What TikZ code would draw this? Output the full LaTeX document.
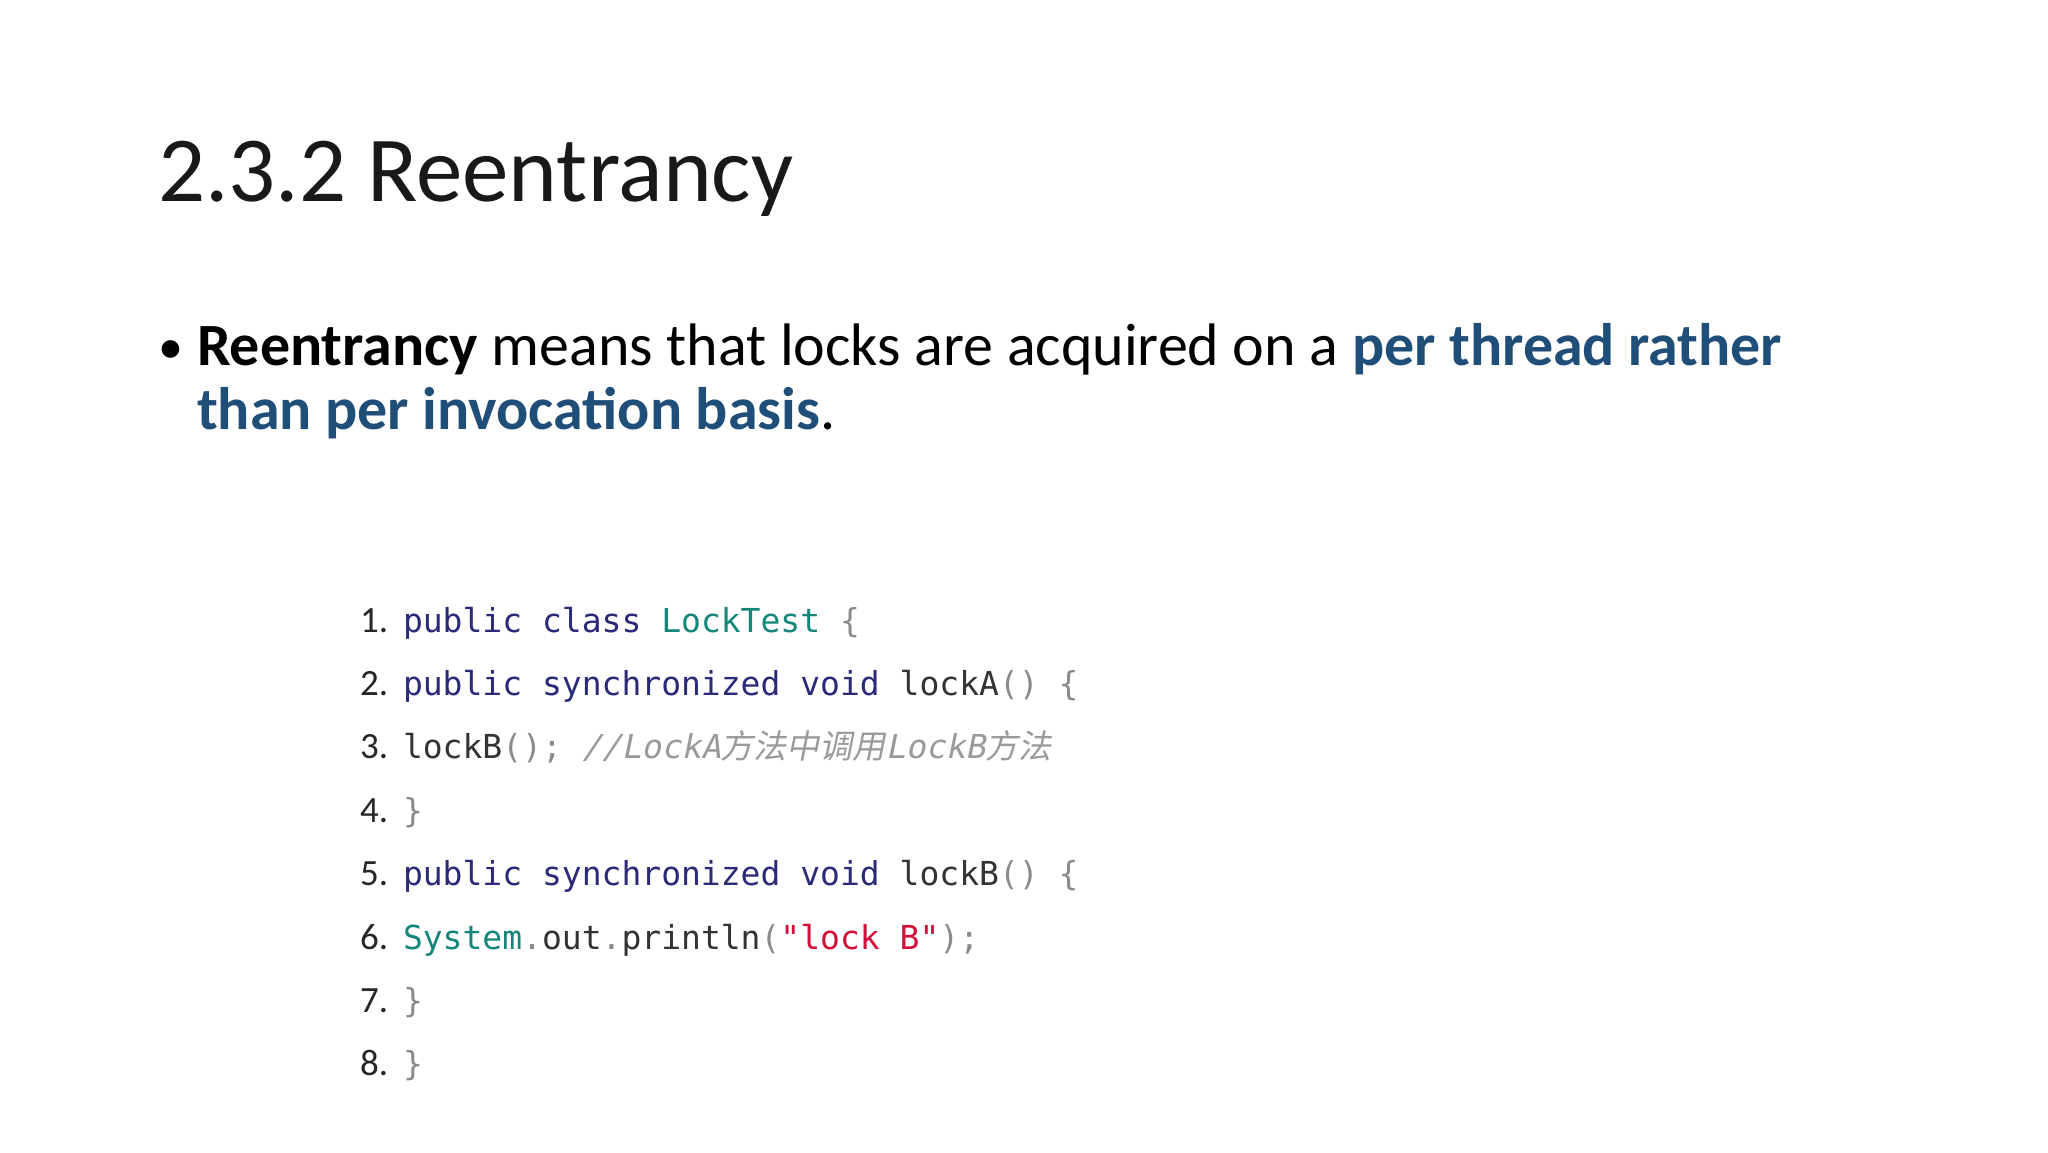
\documentclass[tikz,border=0pt]{standalone}
\usepackage{fontspec}
\setmainfont{Carlito}
\setmonofont{DejaVu Sans Mono}
\newfontfamily\cjk[FakeSlant=0.2]{Noto Sans CJK SC}
\newfontfamily\monoit[FakeSlant=0.2]{DejaVu Sans Mono}
\definecolor{tblue}{HTML}{1F4E79}
\definecolor{kw}{HTML}{2A2A78}
\definecolor{teal1}{HTML}{14877A}
\definecolor{punc}{HTML}{8A8A8A}
\definecolor{str}{HTML}{D0103A}
\definecolor{cmt}{HTML}{9A9A9A}
\definecolor{idf}{HTML}{333333}
\begin{document}
\begin{tikzpicture}[x=1pt,y=-1pt,
  txt/.style={anchor=base west,inner sep=0pt,outer sep=0pt},
  num/.style={txt,font=\fontsize{37}{40}\selectfont,text=black!85},
  code/.style={txt,font=\fontsize{33}{36}\ttfamily}]
\useasboundingbox (0,0) rectangle (2048,1152);
\fill[white] (0,0) rectangle (2048,1152);
\node[txt,font=\fontsize{93}{100}\selectfont,text=black!90] (title) at (158,201) {2.3.2 Reentrancy};
\node[txt,font=\fontsize{50}{70}\selectfont] (bul) at (158,363) {\textbullet};
\node[txt,font=\fontsize{60}{70}\selectfont] (l1) at (197,365) {\textbf{Reentrancy} means that locks are acquired on a \textcolor{tblue}{\textbf{per thread rather}}};
\node[txt,font=\fontsize{60}{70}\selectfont] (l2) at (197,429) {\textcolor{tblue}{\textbf{than per invocation basis}}.};
\foreach \i [evaluate=\i as \yy using 632+63.4*(\i-1)] in {1,...,8}
  \node[num] (n\i) at (360,\yy) {\i.};
\node[code] (c1) at (403,632) {\textcolor{kw}{public class} \textcolor{teal1}{LockTest} \textcolor{punc}{\{}};
\node[code] (c2) at (403,695.4) {\textcolor{kw}{public synchronized void} \textcolor{idf}{lockA}\textcolor{punc}{() \{}};
\node[code] (c3) at (403,758.8) {\textcolor{idf}{lockB}\textcolor{punc}{();} \textcolor{cmt}{\monoit //LockA\cjk 方法中调用\monoit LockB\cjk 方法}};
\node[code] (c4) at (403,822.2) {\textcolor{punc}{\}}};
\node[code] (c5) at (403,885.6) {\textcolor{kw}{public synchronized void} \textcolor{idf}{lockB}\textcolor{punc}{() \{}};
\node[code] (c6) at (403,949) {\textcolor{teal1}{System}\textcolor{punc}{.}\textcolor{idf}{out}\textcolor{punc}{.}\textcolor{idf}{println}\textcolor{punc}{(}\textcolor{str}{"lock B"}\textcolor{punc}{);}};
\node[code] (c7) at (403,1012.4) {\textcolor{punc}{\}}};
\node[code] (c8) at (403,1075.8) {\textcolor{punc}{\}}};
\end{tikzpicture}
\end{document}
